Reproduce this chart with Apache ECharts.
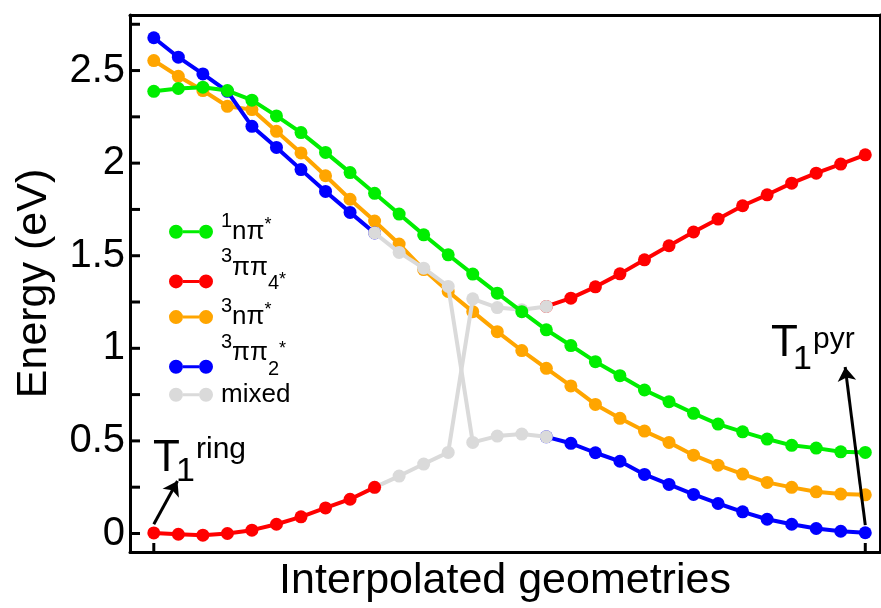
<!DOCTYPE html>
<html><head><meta charset="utf-8">
<script src="https://cdn.jsdelivr.net/npm/echarts@6/dist/echarts.min.js"></script>
<style>html,body{margin:0;padding:0;background:#fff}#c{width:881px;height:608px}</style>
</head><body><div id="c"></div>
<script>
// ---- data ----
const geometries = [0,1,2,3,4,5,6,7,8,9,10,11,12,13,14,15,16,17,18,19,20,21,22,23,24,25,26,27,28,29];
const singletNPi = [2.388,2.403,2.410,2.392,2.340,2.255,2.165,2.058,1.949,1.837,1.725,1.613,1.505,1.401,1.298,1.198,1.100,1.015,0.928,0.852,0.775,0.712,0.649,0.591,0.549,0.510,0.476,0.461,0.441,0.438];
const tripletNPi = [2.554,2.469,2.392,2.307,2.289,2.172,2.055,1.932,1.805,1.687,1.563,1.425,1.307,1.198,1.090,0.988,0.892,0.797,0.697,0.622,0.553,0.492,0.423,0.369,0.321,0.276,0.249,0.225,0.213,0.209];
const tripletPiPi2Left = [2.677,2.572,2.482,2.388,2.199,2.085,1.965,1.847,1.734,1.623];      // geometries 0-9
const tripletPiPi2Right = [0.522,0.487,0.436,0.390,0.319,0.265,0.211,0.162,0.117,0.077,0.050,0.027,0.012,0.004]; // 16-29
const tripletPiPi4Left = [0.003,-0.004,-0.009,0.000,0.018,0.050,0.090,0.138,0.185,0.249];    // 0-9
const tripletPiPi4Right = [1.226,1.271,1.332,1.402,1.478,1.554,1.628,1.698,1.770,1.829,1.892,1.946,1.995,2.045]; // 16-29
const mixedUpperToLower = [1.623,1.518,1.433,1.334,0.492,0.526,0.537,0.522];   // 9-16
const mixedLowerToUpper = [0.249,0.310,0.375,0.438,1.267,1.220,1.208,1.226];   // 9-16
const yLabelValues = [0,0.5,1,1.5,2,2.5];
const yTickValues = [0,0.25,0.5,0.75,1,1.25,1.5,1.75,2,2.25,2.5,2.75];
const xTickValues = [0, 29];
const legendNames = ['1nπ*','3ππ4*','3nπ*','3ππ2*','mixed'];
// annotation arrows (data coordinates: tail -> head)
const arrowRing = [[0,0.05],[0.965,0.283]];
const arrowPyr = [[29,0.045],[28.18,0.899]];

// ---- chart ----
const FONT = '"Liberation Sans", Arial, Helvetica, sans-serif';
const COLORS = {green:'#00ee00', red:'#ff0000', orange:'#ffa500', blue:'#0000ff', gray:'#dadada'};
const X_RANGE = [-0.97, 29.6], Y_RANGE = [-0.1, 2.8];
function pairs(values, start){ return values.map((v,i)=>[geometries[start+i], v]); }
function line(name, color, data, z){
  return {type:'line', name, data, z, symbol:'circle', symbolSize:13, showAllSymbol:true,
    lineStyle:{color, width:4}, itemStyle:{color}, emphasis:{disabled:true}, animation:false, silent:true};
}
const tok = (fs, lh, pb) => ({fontSize:fs, lineHeight:lh, padding:[0,0,pb,0], verticalAlign:'bottom', fontFamily:FONT, color:'#000'});
const P = 14;
const rich = {
  b0: tok(26,26,0), s0: tok(20,20,13.7), t0: tok(18,18,10.7),
  b1: tok(26,26,P), s1: tok(20,20,P+13.7), u1: tok(20,20,P-13.3), tl: tok(18,18,P-9), tb: tok(18,18,P+7.7),
  m: tok(26,26,0)
};
const legendText = {
  '1nπ*': '{s0|1}{b0|nπ}{t0|*}',
  '3ππ4*': '{s1|3}{b1|ππ}{u1|4}{tl|*}',
  '3nπ*': '{s0|3}{b0|nπ}{t0|*}',
  '3ππ2*': '{s1|3}{b1|ππ}{u1|2}{tb|*}',
  'mixed': '{m|mixed}'
};
const frameLine = {show:true, onZero:false, lineStyle:{color:'#000', width:3}};
const bareAxis = (pos, range) => ({type:'value', position:pos, min:range[0], max:range[1],
  axisLine:frameLine, axisTick:{show:false}, axisLabel:{show:false}, splitLine:{show:false}});
const chart = echarts.init(document.getElementById('c'), null, {renderer:'canvas'});
chart.setOption({
  animation:false,
  backgroundColor:'#fff',
  grid:{left:130, right:1, top:15, bottom:56, show:false},
  xAxis:[{type:'value', position:'bottom', min:X_RANGE[0], max:X_RANGE[1], axisLine:frameLine, splitLine:{show:false},
    axisLabel:{show:false}, axisTick:{show:false},
    name:'Interpolated geometries', nameLocation:'middle', nameGap:8,
    nameTextStyle:{fontSize:43, color:'#000', fontFamily:FONT}},
    bareAxis('top',X_RANGE)],
  yAxis:[{type:'value', position:'left', min:Y_RANGE[0], max:Y_RANGE[1], axisLine:frameLine, splitLine:{show:false},
    axisTick:{show:false},
    axisLabel:{customValues:yLabelValues, fontSize:40, color:'#000', fontFamily:FONT, margin:5},
    name:'Energy (eV)', nameLocation:'middle', nameGap:74,
    nameTextStyle:{fontSize:43, color:'#000', fontFamily:FONT}},
    bareAxis('right',Y_RANGE)],
  legend:{data:legendNames, orient:'vertical', left:169, top:211, padding:0, itemGap:2,
    itemWidth:44, itemHeight:14, selectedMode:false,
    icon:'path://M0,7a7,7 0 1,0 14,0a7,7 0 1,0 -14,0zM14,5.5h16v3h-16zM30,7a7,7 0 1,0 14,0a7,7 0 1,0 -14,0z',
    textStyle:{fontSize:26, color:'#000', fontFamily:FONT, padding:[0,0,0,3], rich},
    formatter: n => legendText[n]},
  series:[
    line('3nπ*', COLORS.orange, pairs(tripletNPi,0), 1),
    line('3ππ2*', COLORS.blue, pairs(tripletPiPi2Left,0), 2),
    line('3ππ2*', COLORS.blue, pairs(tripletPiPi2Right,16), 2),
    line('3ππ4*', COLORS.red, pairs(tripletPiPi4Right,16), 2),
    line('mixed', COLORS.gray, pairs(mixedUpperToLower,9), 3),
    line('mixed', COLORS.gray, pairs(mixedLowerToUpper,9), 3),
    line('1nπ*', COLORS.green, pairs(singletNPi,0), 4),
    line('3ππ4*', COLORS.red, pairs(tripletPiPi4Left,0), 5),
    {type:'line', name:'annotations', data:[], z:6, silent:true,
      markLine:{silent:true, animation:false, symbol:['none','arrow'], symbolSize:14,
        label:{show:false}, emphasis:{disabled:true},
        lineStyle:{color:'#000', width:3, type:'solid', opacity:1},
        data:[[{coord:arrowRing[0]},{coord:arrowRing[1]}],[{coord:arrowPyr[0]},{coord:arrowPyr[1]}]]}}
  ]
});
// inward tick marks, placed through the axis scales
const toPx = pt => chart.convertToPixel({gridIndex:0}, pt);
const tickEls = [];
yTickValues.forEach(v => { const p = toPx([X_RANGE[0], v]);
  tickEls.push({type:'rect', z:100, silent:true, shape:{x:p[0], y:p[1]-1.5, width:10, height:3}, style:{fill:'#000'}}); });
xTickValues.forEach(v => { const p = toPx([v, Y_RANGE[0]]);
  tickEls.push({type:'rect', z:100, silent:true, shape:{x:p[0]-1.5, y:p[1]-9, width:3, height:9}, style:{fill:'#000'}}); });
const textEls = [
  {type:'text', x:153, y:459, z:100, style:{text:'T', fontSize:44, fontFamily:FONT, fill:'#000', align:'left', verticalAlign:'middle'}},
  {type:'text', x:176, y:472, z:100, style:{text:'1', fontSize:34, fontFamily:FONT, fill:'#000', align:'left', verticalAlign:'middle'}},
  {type:'text', x:196, y:450, z:100, style:{text:'ring', fontSize:30, fontFamily:FONT, fill:'#000', align:'left', verticalAlign:'middle'}},
  {type:'text', x:771, y:344, z:100, style:{text:'T', fontSize:44, fontFamily:FONT, fill:'#000', align:'left', verticalAlign:'middle'}},
  {type:'text', x:793, y:360, z:100, style:{text:'1', fontSize:34, fontFamily:FONT, fill:'#000', align:'left', verticalAlign:'middle'}},
  {type:'text', x:813, y:340, z:100, style:{text:'pyr', fontSize:30, fontFamily:FONT, fill:'#000', align:'left', verticalAlign:'middle'}}
];
chart.setOption({graphic: textEls.concat(tickEls)});
</script></body></html>
